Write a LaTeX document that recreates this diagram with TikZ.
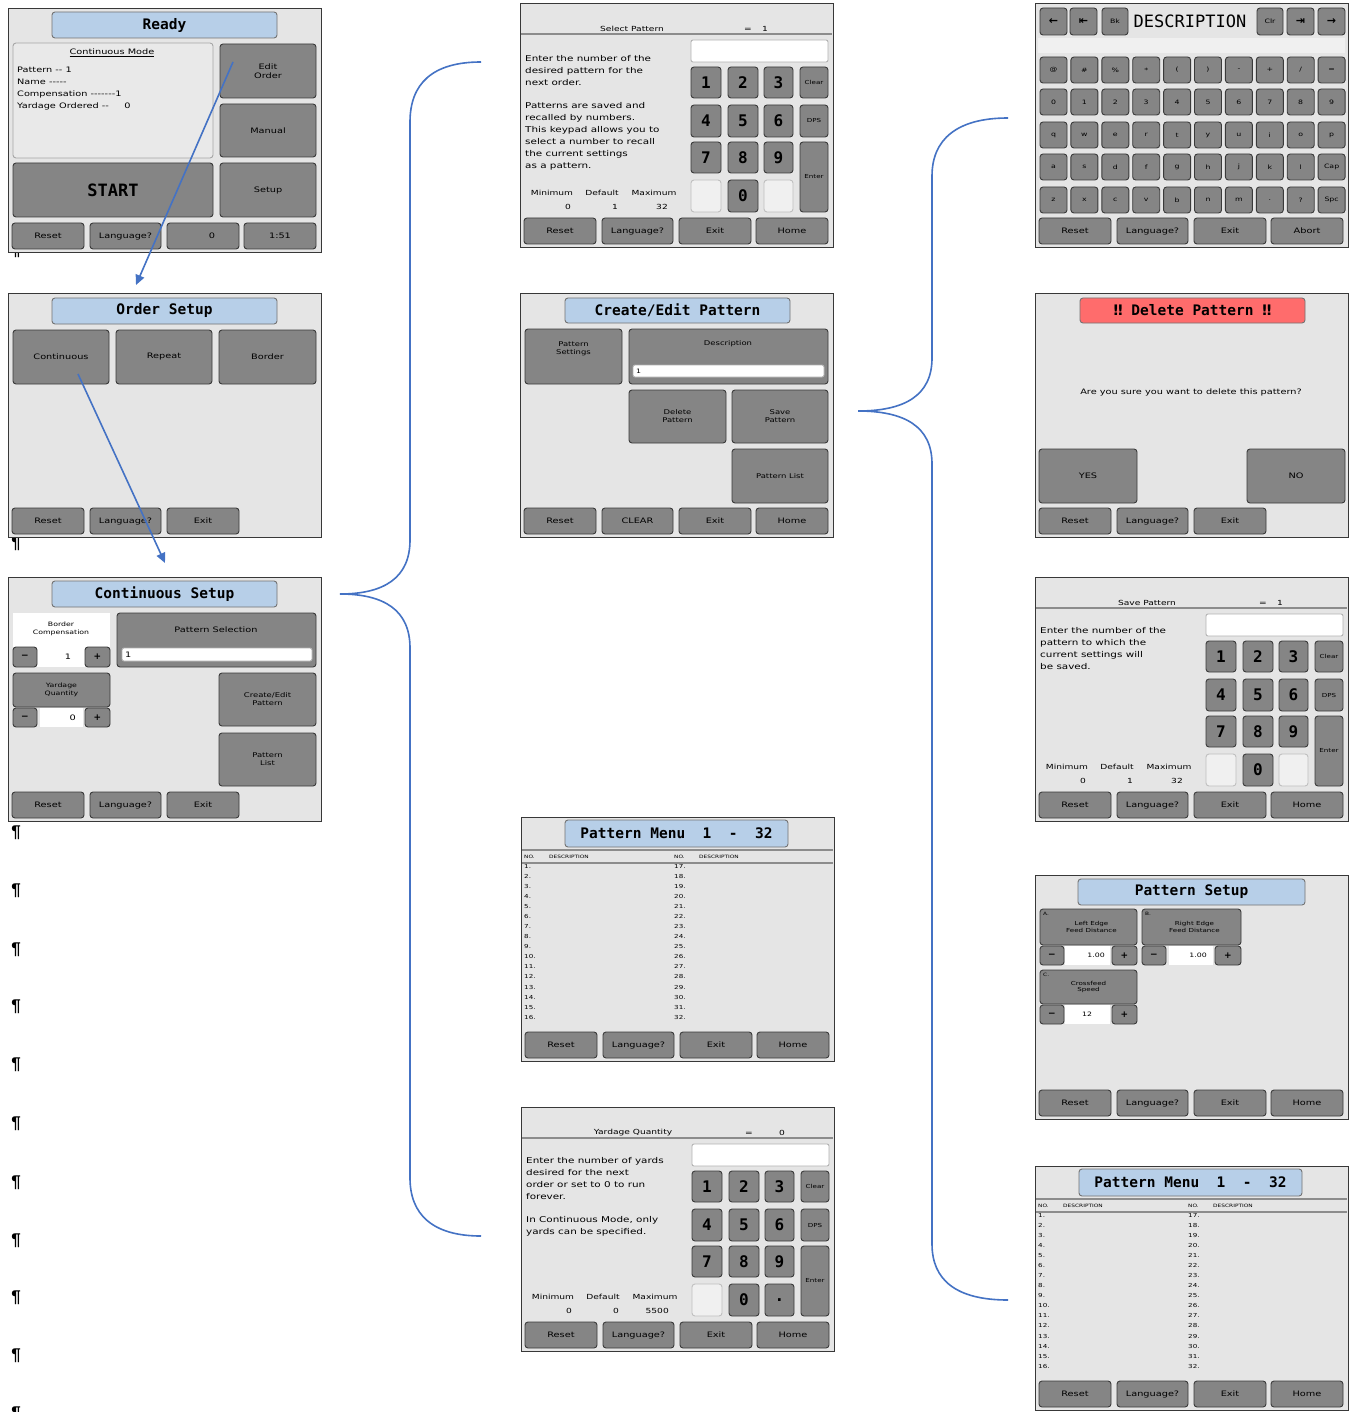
\documentclass[tikz,border=0pt]{standalone}
\usepackage{fontspec}
\usetikzlibrary{arrows.meta}
\newfontfamily\uiFont[FakeStretch=1.3]{DejaVu Sans}
\newfontfamily\uiMono{DejaVu Sans Mono}
\newfontfamily\uiSym{DejaVu Sans}
\newfontfamily\uiPil{Liberation Sans}
\definecolor{scrbg}{RGB}{229,229,229}
\definecolor{btnfill}{RGB}{133,133,133}
\definecolor{btnedge}{RGB}{58,58,58}
\definecolor{ttlfill}{RGB}{183,207,232}
\definecolor{redfill}{RGB}{255,108,108}
\definecolor{linkblue}{RGB}{68,114,196}
\definecolor{blankkey}{RGB}{240,240,240}
\definecolor{panelbg}{RGB}{233,233,233}
\tikzset{
 screen/.style={draw=black!78, line width=1.4pt, fill=scrbg, minimum width=313pt, minimum height=244pt, anchor=north west, inner sep=0pt},
 btn/.style={draw=btnedge, line width=0.9pt, fill=btnfill, rounded corners=3pt, inner sep=0pt, outer sep=0pt, align=center, font=\uiFont\fontsize{7.5}{9.5}\selectfont},
 ttl/.style={fill=ttlfill, draw=black!55, font=\uiMono\bfseries\fontsize{14.5}{15}\selectfont},
 redttl/.style={fill=redfill, draw=black!55, font=\uiMono\bfseries\fontsize{14.5}{15}\selectfont},
 panel/.style={fill=panelbg, draw=black!35},
 field/.style={fill=white, draw=black!30, rounded corners=2pt},
 blank/.style={fill=blankkey, draw=black!25},
 key/.style={font=\uiMono\bfseries\fontsize{16}{16}\selectfont},
 tinyb/.style={font=\uiFont\fontsize{5.5}{6.5}\selectfont},
 kbk/.style={font=\uiFont\fontsize{6}{7}\selectfont},
 sym/.style={font=\uiSym\bfseries\fontsize{11}{11}\selectfont},
 lbl/.style={inner sep=0pt, font=\uiFont\fontsize{7.5}{9.5}\selectfont, align=center},
 small/.style={inner sep=0pt, font=\uiFont\fontsize{6}{7.5}\selectfont, align=center},
 para/.style={inner sep=0pt, anchor=north west, align=left, font=\uiFont\fontsize{8}{12}\selectfont},
 tinyl/.style={inner sep=0pt, font=\uiFont\fontsize{4.5}{5}\selectfont},
 rows/.style={inner sep=0pt, anchor=north west, align=left, font=\uiFont\fontsize{5.5}{10.07}\selectfont},
 hline/.style={draw=black!45, line width=1.2pt},
 pil/.style={font=\uiPil\bfseries\fontsize{17}{17}\selectfont, inner sep=0pt},
 link/.style={draw=linkblue, line width=1.6pt},
}
\newcommand\uiBox[7][]{\pgfmathsetmacro\uibw{(#5)-(#3)}\pgfmathsetmacro\uibh{(#6)-(#4)}\node[btn,minimum width=\uibw pt,minimum height=\uibh pt,#1] (#2) at ({((#3)+(#5))/2},{((#4)+(#6))/2}) {#7};}
\newcommand\uiBotIV[5]{%
 \uiBox{#1-b1}{4}{215}{76}{241}{#2}
 \uiBox{#1-b2}{82}{215}{153}{241}{#3}
 \uiBox{#1-b3}{159}{215}{231}{241}{#4}
 \uiBox{#1-b4}{236}{215}{308}{241}{#5}}
\newcommand\uiBotIII[4]{%
 \uiBox{#1-b1}{4}{215}{76}{241}{#2}
 \uiBox{#1-b2}{82}{215}{153}{241}{#3}
 \uiBox{#1-b3}{159}{215}{231}{241}{#4}}
\newcommand\uiKeypad[3]{%
 \uiBox[field]{#1-in}{171}{37}{308}{59}{}
 \uiBox[key]{#1-k1}{171}{64}{201}{95}{1}
 \uiBox[key]{#1-k2}{208}{64}{238}{95}{2}
 \uiBox[key]{#1-k3}{244}{64}{273}{95}{3}
 \uiBox[tinyb]{#1-clr}{280}{64}{308}{95}{Clear}
 \uiBox[key]{#1-k4}{171}{102}{201}{134}{4}
 \uiBox[key]{#1-k5}{208}{102}{238}{134}{5}
 \uiBox[key]{#1-k6}{244}{102}{273}{134}{6}
 \uiBox[tinyb]{#1-dps}{280}{102}{308}{134}{DPS}
 \uiBox[key]{#1-k7}{171}{139}{201}{170}{7}
 \uiBox[key]{#1-k8}{208}{139}{238}{170}{8}
 \uiBox[key]{#1-k9}{244}{139}{273}{170}{9}
 \uiBox[tinyb]{#1-ent}{280}{139}{308}{209}{Enter}
 \uiBox[blank]{#1-bl}{171}{177}{201}{209}{}
 \uiBox[key]{#1-k0}{208}{177}{238}{209}{0}
 \uiBox[#2]{#1-kx}{244}{177}{273}{209}{#3}}
\newcommand\uiHeader[4]{%
 \node[lbl,font=\uiFont\fontsize{7}{8}\selectfont] (#1-hd) at (112,26) {#2};
 \node[lbl,font=\uiFont\fontsize{7}{8}\selectfont] (#1-eq) at (228,27) {=};
 \node[lbl,font=\uiFont\fontsize{7}{8}\selectfont] (#1-hv) at (#4,26) {#3};
 \draw[hline] (1,31) -- (312,31);}
\newcommand\uiMinMax[4]{%
 \node[lbl,font=\uiFont\fontsize{7}{8}\selectfont] (#1-mn) at (32,190) {Minimum};
 \node[lbl,font=\uiFont\fontsize{7}{8}\selectfont] (#1-df) at (82,190) {Default};
 \node[lbl,font=\uiFont\fontsize{7}{8}\selectfont] (#1-mx) at (134,190) {Maximum};
 \node[lbl,anchor=east,font=\uiFont\fontsize{7}{8}\selectfont] (#1-v1) at (51,204) {#2};
 \node[lbl,anchor=east,font=\uiFont\fontsize{7}{8}\selectfont] (#1-v2) at (98,204) {#3};
 \node[lbl,anchor=east,font=\uiFont\fontsize{7}{8}\selectfont] (#1-v3) at (148,204) {#4};}
\newcommand\uiPatMenu[1]{%
 \node[screen] (#1) at (0,0) {};
 \uiBox[ttl]{#1-t}{44}{3}{267}{30}{Pattern Menu\ \ 1\ \ -\ \ 32}
 \draw[hline] (1,33) -- (312,33);
 \draw[hline] (1,46) -- (312,46);
 \node[tinyl,anchor=west] (#1-h1) at (3,40) {NO.};
 \node[tinyl,anchor=west] (#1-h2) at (28,40) {DESCRIPTION};
 \node[tinyl,anchor=west] (#1-h3) at (153,40) {NO.};
 \node[tinyl,anchor=west] (#1-h4) at (178,40) {DESCRIPTION};
 \node[rows] (#1-c1) at (3,47) {1.\\2.\\3.\\4.\\5.\\6.\\7.\\8.\\9.\\10.\\11.\\12.\\13.\\14.\\15.\\16.};
 \node[rows] (#1-c2) at (153,47) {17.\\18.\\19.\\20.\\21.\\22.\\23.\\24.\\25.\\26.\\27.\\28.\\29.\\30.\\31.\\32.};
 \uiBotIV{#1}{Reset}{Language?}{Exit}{Home}}
\begin{document}
\begin{tikzpicture}[x=1pt,y=-1pt]
\useasboundingbox (0,0) rectangle (1351,1412);
\fill[white] (0,0) rectangle (1351,1412);
% paragraph marks
\foreach \py [count=\k] in {251,544,833,891,950,1007,1065,1124,1183,1241,1298,1356,1414}
  \node[pil] (pil\k) at (16,\py) {¶};
% ---------------- Ready
\begin{scope}[shift={(8,8)}]
 \node[screen] (rdy) at (0,0) {};
 \uiBox[ttl]{rdy-t}{44}{4}{269}{30}{Ready}
 \uiBox[panel]{rdy-info}{5}{35}{205}{150}{}
 \node[lbl] (rdy-cm) at (104,45) {\underline{Continuous Mode}};
 \node[para,font=\uiFont\fontsize{7.5}{12}\selectfont] (rdy-lines) at (9,59) {Pattern -{}- 1\\Name -{}-{}-{}-{}-\\Compensation -{}-{}-{}-{}-{}-{}-1\\Yardage Ordered -{}-~~~~~0};
 \uiBox{rdy-edit}{212}{36}{308}{90}{Edit\\Order}
 \uiBox{rdy-man}{212}{96}{308}{149}{Manual}
 \uiBox[font=\uiMono\bfseries\fontsize{17}{17}\selectfont]{rdy-start}{5}{155}{205}{209}{START}
 \uiBox{rdy-setup}{212}{155}{308}{209}{Setup}
 \uiBotIV{rdy}{Reset}{Language?}{\hspace*{18pt}0}{1:51}
\end{scope}
% ---------------- Order Setup
\begin{scope}[shift={(8,293)}]
 \node[screen] (ord) at (0,0) {};
 \uiBox[ttl]{ord-t}{44}{5}{269}{31}{Order Setup}
 \uiBox{ord-c}{5}{37}{101}{91}{Continuous}
 \uiBox{ord-r}{108}{37}{204}{91}{Repeat}
 \uiBox{ord-b}{211}{37}{308}{91}{Border}
 \uiBotIII{ord}{Reset}{Language?}{Exit}
\end{scope}
% ---------------- Continuous Setup
\begin{scope}[shift={(8,577)}]
 \node[screen] (cs) at (0,0) {};
 \uiBox[ttl]{cs-t}{44}{4}{269}{30}{Continuous Setup}
 \uiBox[fill=white,draw=none,rounded corners=0pt]{cs-bp}{5}{36}{102}{90}{}
 \node[small] (cs-bpl) at (53,52) {Border\\Compensation};
 \uiBox[font=\uiSym\bfseries\fontsize{9}{9}\selectfont]{cs-bm}{5}{70}{29}{90}{−}
 \node[lbl] (cs-bv) at (60,80) {1};
 \uiBox[font=\uiSym\bfseries\fontsize{9}{9}\selectfont]{cs-bpp}{77}{70}{102}{90}{+}
 \uiBox{cs-ps}{109}{36}{308}{90}{}
 \node[lbl] (cs-psl) at (208,53) {Pattern Selection};
 \uiBox[field]{cs-psf}{114}{71}{304}{84}{}
 \node[lbl,anchor=west] (cs-psv) at (117,77.5) {1};
 \uiBox[font=\uiFont\fontsize{6}{7.5}\selectfont]{cs-yq}{5}{96}{102}{130}{Yardage\\Quantity}
 \uiBox[font=\uiSym\bfseries\fontsize{9}{9}\selectfont]{cs-ym}{5}{131}{29}{150}{−}
 \uiBox[field,rounded corners=0pt,draw=none]{cs-yf}{32}{131}{75}{150}{}
 \node[lbl,anchor=east] (cs-yv) at (68,140.5) {0};
 \uiBox[font=\uiSym\bfseries\fontsize{9}{9}\selectfont]{cs-yp}{77}{131}{102}{150}{+}
 \uiBox[font=\uiFont\fontsize{6.5}{8}\selectfont]{cs-ce}{211}{96}{308}{149}{Create/Edit\\Pattern}
 \uiBox[font=\uiFont\fontsize{6.5}{8}\selectfont]{cs-pl}{211}{156}{308}{209}{Pattern\\List}
 \uiBotIII{cs}{Reset}{Language?}{Exit}
\end{scope}
% ---------------- Select Pattern
\begin{scope}[shift={(520,3)}]
 \node[screen] (sp) at (0,0) {};
 \uiHeader{sp}{Select Pattern}{1}{245}
 \uiKeypad{sp}{blank}{}
 \node[para] (sp-txt) at (5,52) {Enter the number of the\\desired pattern for the\\next order.\\[11pt]Patterns are saved and\\recalled by numbers.\\This keypad allows you to\\select a number to recall\\the current settings\\as a pattern.};
 \uiMinMax{sp}{0}{1}{32}
 \uiBotIV{sp}{Reset}{Language?}{Exit}{Home}
\end{scope}
% ---------------- Create/Edit Pattern
\begin{scope}[shift={(520,293)}]
 \node[screen] (ce) at (0,0) {};
 \uiBox[ttl]{ce-t}{45}{5}{270}{30}{Create/Edit Pattern}
 \uiBox[font=\uiFont\fontsize{6.5}{8}\selectfont]{ce-ps}{5}{36}{102}{91}{Pattern\\Settings\\[8pt]}
 \uiBox{ce-d}{109}{36}{308}{91}{}
 \node[lbl,font=\uiFont\fontsize{6.5}{8}\selectfont] (ce-dl) at (208,51) {Description};
 \uiBox[field]{ce-df}{113}{72}{304}{84}{}
 \node[lbl,anchor=west,font=\uiFont\fontsize{6}{7}\selectfont] (ce-dv) at (116,78) {1};
 \uiBox[font=\uiFont\fontsize{6.5}{8}\selectfont]{ce-del}{109}{97}{206}{150}{Delete\\Pattern}
 \uiBox[font=\uiFont\fontsize{6.5}{8}\selectfont]{ce-sav}{212}{97}{308}{150}{Save\\Pattern}
 \uiBox[font=\uiFont\fontsize{6.5}{8}\selectfont]{ce-pl}{212}{156}{308}{210}{Pattern List}
 \uiBotIV{ce}{Reset}{CLEAR}{Exit}{Home}
\end{scope}
% ---------------- Pattern Menu (middle)
\begin{scope}[shift={(521,817)}]
 \uiPatMenu{pm1}
\end{scope}
% ---------------- Yardage Quantity
\begin{scope}[shift={(521,1107)}]
 \node[screen] (yq) at (0,0) {};
 \uiHeader{yq}{Yardage Quantity}{0}{261}
 \uiKeypad{yq}{key}{.}
 \node[para] (yq-txt) at (5,50) {Enter the number of yards\\desired for the next\\order or set to 0 to run\\forever.\\[11pt]In Continuous Mode, only\\yards can be specified.};
 \uiMinMax{yq}{0}{0}{5500}
 \uiBotIV{yq}{Reset}{Language?}{Exit}{Home}
\end{scope}
% ---------------- Keyboard DESCRIPTION
\begin{scope}[shift={(1035,3)}]
 \node[screen] (kb) at (0,0) {};
 \fill[blankkey] (3,35) rectangle (310,50);
 \uiBox[sym]{kb-l}{5}{5}{32}{32}{←}
 \uiBox[sym]{kb-home}{35}{5}{62}{32}{⇤}
 \uiBox[kbk]{kb-bk}{67}{5}{93}{32}{Bk}
 \node[inner sep=0pt,font=\uiMono\fontsize{17}{17}\selectfont] (kb-desc) at (155,18) {DESCRIPTION};
 \uiBox[kbk]{kb-clr}{222}{5}{248}{32}{Clr}
 \uiBox[sym]{kb-end}{252}{5}{279}{32}{⇥}
 \uiBox[sym]{kb-r}{283}{5}{310}{32}{→}
 \foreach \lab [count=\i from 0] in {@,{\#},{\%},*,{(},{)},-,+,/,=}
   {\uiBox[kbk]{kb-a\i}{5+30.9*\i}{54}{32+30.9*\i}{80}{\lab}}
 \foreach \lab [count=\i from 0] in {0,1,2,3,4,5,6,7,8,9}
   {\uiBox[kbk]{kb-b\i}{5+30.9*\i}{86}{32+30.9*\i}{112}{\lab}}
 \foreach \lab [count=\i from 0] in {q,w,e,r,t,y,u,i,o,p}
   {\uiBox[kbk]{kb-c\i}{5+30.9*\i}{119}{32+30.9*\i}{145}{\lab}}
 \foreach \lab [count=\i from 0] in {a,s,d,f,g,h,j,k,l,Cap}
   {\uiBox[kbk]{kb-d\i}{5+30.9*\i}{151}{32+30.9*\i}{177}{\lab}}
 \foreach \lab [count=\i from 0] in {z,x,c,v,b,n,m,.,?,Spc}
   {\uiBox[kbk]{kb-e\i}{5+30.9*\i}{184}{32+30.9*\i}{210}{\lab}}
 \uiBotIV{kb}{Reset}{Language?}{Exit}{Abort}
\end{scope}
% ---------------- Delete Pattern
\begin{scope}[shift={(1035,293)}]
 \node[screen] (dp) at (0,0) {};
 \uiBox[redttl]{dp-t}{45}{5}{270}{30}{{\uiSym\bfseries ‼} Delete Pattern {\uiSym\bfseries ‼}}
 \node[lbl] (dp-q) at (156,99) {Are you sure you want to delete this pattern?};
 \uiBox{dp-y}{4}{156}{102}{210}{YES}
 \uiBox{dp-n}{212}{156}{310}{210}{NO}
 \uiBotIII{dp}{Reset}{Language?}{Exit}
\end{scope}
% ---------------- Save Pattern
\begin{scope}[shift={(1035,577)}]
 \node[screen] (svp) at (0,0) {};
 \uiHeader{svp}{Save Pattern}{1}{245}
 \uiKeypad{svp}{blank}{}
 \node[para] (svp-txt) at (5,50) {Enter the number of the\\pattern to which the\\current settings will\\be saved.};
 \uiMinMax{svp}{0}{1}{32}
 \uiBotIV{svp}{Reset}{Language?}{Exit}{Home}
\end{scope}
% ---------------- Pattern Setup
\begin{scope}[shift={(1035,875)}]
 \node[screen] (pst) at (0,0) {};
 \uiBox[ttl]{pst-t}{43}{4}{270}{30}{Pattern Setup}
 \uiBox[font=\uiFont\fontsize{5.5}{6.5}\selectfont]{pst-a}{5}{34}{102}{70}{\hspace*{6pt}Left Edge\\\hspace*{6pt}Feed Distance}
 \node[tinyl,anchor=north west] (pst-al) at (8,37) {A.};
 \uiBox[font=\uiSym\bfseries\fontsize{9}{9}\selectfont]{pst-am}{5}{71}{29}{90}{−}
 \uiBox[field,rounded corners=0pt,draw=none]{pst-af}{30}{71}{75}{90}{}
 \node[lbl,anchor=east,font=\uiFont\fontsize{6}{7}\selectfont] (pst-av) at (70,80.5) {1.00};
 \uiBox[font=\uiSym\bfseries\fontsize{9}{9}\selectfont]{pst-ap}{77}{71}{102}{90}{+}
 \uiBox[font=\uiFont\fontsize{5.5}{6.5}\selectfont]{pst-b}{107}{34}{206}{70}{\hspace*{6pt}Right Edge\\\hspace*{6pt}Feed Distance}
 \node[tinyl,anchor=north west] (pst-bl) at (110,37) {B.};
 \uiBox[font=\uiSym\bfseries\fontsize{9}{9}\selectfont]{pst-bm}{107}{71}{131}{90}{−}
 \uiBox[field,rounded corners=0pt,draw=none]{pst-bf}{134}{71}{178}{90}{}
 \node[lbl,anchor=east,font=\uiFont\fontsize{6}{7}\selectfont] (pst-bv) at (172,80.5) {1.00};
 \uiBox[font=\uiSym\bfseries\fontsize{9}{9}\selectfont]{pst-bp}{180}{71}{206}{90}{+}
 \uiBox[font=\uiFont\fontsize{5.5}{6.5}\selectfont]{pst-c}{5}{95}{102}{129}{Crossfeed\\Speed}
 \node[tinyl,anchor=north west] (pst-cl) at (8,98) {C.};
 \uiBox[font=\uiSym\bfseries\fontsize{9}{9}\selectfont]{pst-cm}{5}{130}{29}{149}{−}
 \uiBox[field,rounded corners=0pt,draw=none]{pst-cf}{30}{130}{75}{149}{}
 \node[lbl,font=\uiFont\fontsize{6}{7}\selectfont] (pst-cv) at (52,139.5) {12};
 \uiBox[font=\uiSym\bfseries\fontsize{9}{9}\selectfont]{pst-cp}{77}{130}{102}{149}{+}
 \uiBotIV{pst}{Reset}{Language?}{Exit}{Home}
\end{scope}
% ---------------- Pattern Menu (right)
\begin{scope}[shift={(1035,1166)}]
 \uiPatMenu{pm2}
\end{scope}
% ---------------- connectors
\coordinate (a1s) at (233,62);
\coordinate (a1e) at (136,285);
\coordinate (a2s) at (78,374);
\coordinate (a2e) at (165,563);
\draw[link,-{Triangle[length=10pt,width=9pt]}] (a1s) -- (a1e);
\draw[link,-{Triangle[length=10pt,width=9pt]}] (a2s) -- (a2e);
\coordinate (b1top) at (481,62);
\coordinate (b1tip) at (340,594);
\coordinate (b1bot) at (481,1236);
\draw[link] (b1top) .. controls (432,62) and (410,84) .. (410,122) -- (410,540) .. controls (410,578) and (384,594) .. (b1tip) .. controls (384,594) and (410,610) .. (410,648) -- (410,1178) .. controls (410,1214) and (432,1236) .. (b1bot);
\coordinate (b2top) at (1008,118);
\coordinate (b2tip) at (858,411);
\coordinate (b2bot) at (1008,1300);
\draw[link] (b2top) .. controls (956,118) and (932,140) .. (932,176) -- (932,358) .. controls (932,396) and (904,411) .. (b2tip) .. controls (904,411) and (932,426) .. (932,464) -- (932,1244) .. controls (932,1280) and (956,1300) .. (b2bot);
\end{tikzpicture}
\end{document}
